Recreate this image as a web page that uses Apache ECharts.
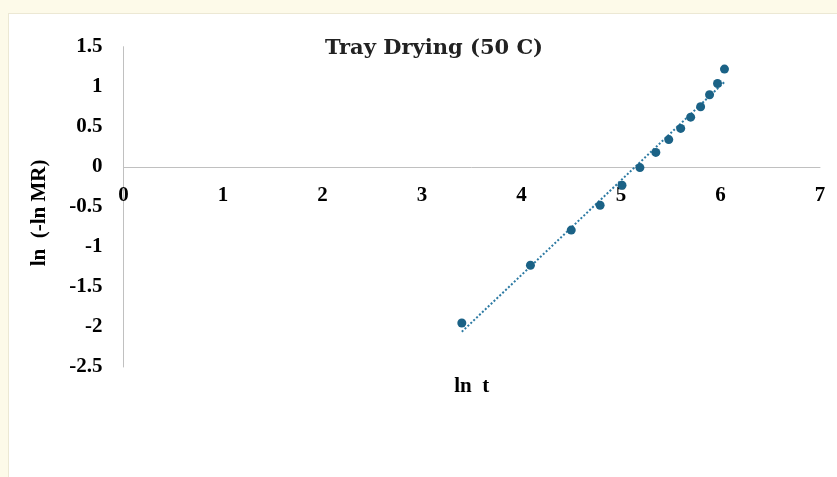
<!DOCTYPE html>
<html>
<head>
<meta charset="utf-8">
<script src="https://cdn.jsdelivr.net/npm/echarts@6/dist/echarts.min.js"></script>
<style>
  html, body { margin: 0; padding: 0; background: #fdfae9; }
  #frame { position: absolute; left: 8px; top: 13px; right: 0; bottom: 0; background: #fff;
           border-left: 1px solid #ece8d4; border-top: 1px solid #ece8d4; }
  #chart { position: absolute; left: 0; top: 0; width: 837px; height: 477px; }
</style>
</head>
<body>
<div id="frame"></div>
<div id="chart"></div>
<script>
// ln t values (x) and ln(-ln MR) values (y)
var lnT = [3.40, 4.09, 4.50, 4.79, 5.01, 5.19, 5.35, 5.48, 5.60, 5.70, 5.80, 5.89, 5.97, 6.04];
var lnLnMR = [-1.95, -1.23, -0.79, -0.48, -0.23, -0.01, 0.18, 0.34, 0.48, 0.62, 0.75, 0.90, 1.04, 1.22];
// linear trendline end points
var trendX = [3.40, 6.04];
var trendY = [-2.06, 1.06];
var xTicks = [0, 1, 2, 3, 4, 5, 6, 7];
var yTicks = [-2.5, -2, -1.5, -1, -0.5, 0, 0.5, 1, 1.5];

var serif = 'Liberation Serif';
var plotH = 477 - 110 - 46.7;
// move the x axis up to the y = 0 line (labels included)
var zeroOffset = -plotH * (0 - yTicks[0]) / (yTicks[yTicks.length - 1] - yTicks[0]);

var chart = echarts.init(document.getElementById('chart'));
chart.setOption({
    animation: false,
    title: {
        text: 'Tray Drying (50 C)',
        left: 429,
        top: 33,
        textAlign: 'center',
        textStyle: { fontFamily: 'DejaVu Serif', fontWeight: 'bold', fontSize: 21, color: '#222' }
    },
    grid: { left: 123.5, top: 46.7, right: 17, bottom: 110, outerBoundsMode: 'none', containLabel: false },
    xAxis: {
        type: 'value',
        min: xTicks[0],
        max: xTicks[xTicks.length - 1],
        interval: 1,
        offset: zeroOffset,
        name: 'ln  t',
        nameLocation: 'middle',
        nameGap: 209,
        nameTextStyle: { fontFamily: serif, fontWeight: 'bold', fontSize: 21, color: '#000' },
        axisLine: { onZero: false, lineStyle: { color: '#c0c0c0', width: 1 } },
        axisTick: { show: false },
        splitLine: { show: false },
        axisLabel: { margin: 18, fontFamily: serif, fontWeight: 'bold', fontSize: 21, color: '#000' }
    },
    yAxis: {
        type: 'value',
        min: yTicks[0],
        max: yTicks[yTicks.length - 1],
        interval: 0.5,
        name: 'ln  (-ln MR)',
        nameLocation: 'middle',
        nameGap: 73,
        nameTextStyle: { fontFamily: serif, fontWeight: 'bold', fontSize: 21, color: '#000', padding: [0, 12, 0, 0] },
        axisLine: { show: true, lineStyle: { color: '#c0c0c0', width: 1 } },
        axisTick: { show: false },
        splitLine: { show: false },
        axisLabel: { margin: 21, fontFamily: serif, fontWeight: 'bold', fontSize: 21, color: '#000' }
    },
    series: [
        {
            type: 'line',
            data: trendX.map(function (x, i) { return [x, trendY[i]]; }),
            showSymbol: false,
            symbol: 'none',
            lineStyle: { color: '#2d7aa3', width: 2, type: [2, 2] },
            z: 1
        },
        {
            type: 'scatter',
            data: lnT.map(function (x, i) { return [x, lnLnMR[i]]; }),
            symbolSize: 9,
            itemStyle: { color: '#1b6286', opacity: 1 },
            z: 2
        }
    ]
});
</script>
</body>
</html>
